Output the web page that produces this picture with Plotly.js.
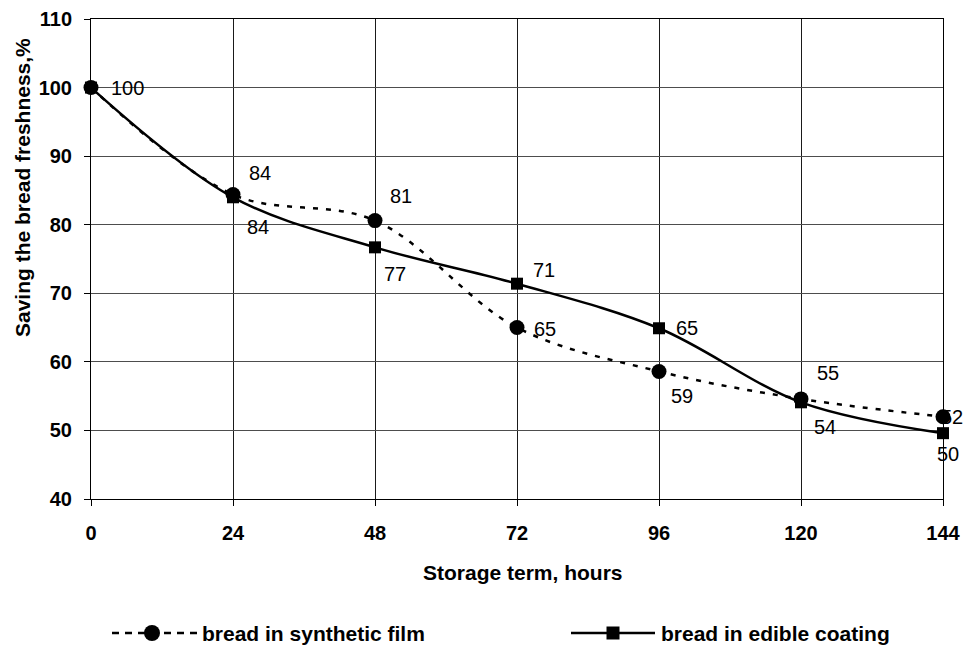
<!DOCTYPE html>
<html>
<head>
<meta charset="utf-8">
<script src="https://cdn.plot.ly/plotly-3.0.1.min.js"></script>
<style>html,body{margin:0;padding:0;background:#fff;}#chart{width:964px;height:646px;}</style>
</head>
<body>
<div id="chart"></div>
<script>
// ---- data ----
const hours = [0, 24, 48, 72, 96, 120, 144];
const synthetic = [100, 84.4, 80.6, 65.0, 58.6, 54.6, 52.0];
const edible = [100, 84.0, 76.7, 71.4, 64.9, 54.1, 49.6];
const yTicks = [40, 50, 60, 70, 80, 90, 100, 110];
const seriesNames = ["bread in synthetic film", "bread in edible coating"];
const xTitle = "Storage term, hours";
const yTitle = "Saving the bread freshness,%";

// ---- styling ----
const FONT = "Liberation Sans, Arial, Helvetica, sans-serif";
const L = 91, R = 21, T = 19, B = 147, W = 964, H = 646;
const PW = W - L - R, PH = H - T - B;
const px2x = p => (p - L) / PW;
const px2y = p => (H - B - p) / PH;
const LEG_Y = 633;

// label offsets in screen pixels [dx, dy(down)]
const synOff = [[36, 0], [27, -22], [26, -25], [28, 1], [23, 25], [27, -26], [9, 0]];
const edOff = [[36, 0], [25, 30], [20, 27], [27, -14], [28, 0], [24, 25], [5, 21]];

const traces = [
  {
    x: hours, y: edible, name: seriesNames[1], type: "scatter", mode: "lines+markers",
    line: {color: "#000", width: 2.5, shape: "spline", smoothing: 1},
    marker: {symbol: "square", size: 12, color: "#000"},
    showlegend: false, cliponaxis: false
  },
  {
    x: hours, y: synthetic, name: seriesNames[0], type: "scatter", mode: "lines+markers",
    line: {color: "#000", width: 2.5, dash: "5px,8px", shape: "spline", smoothing: 1},
    marker: {symbol: "circle", size: 15, color: "#000"},
    showlegend: false, cliponaxis: false
  }
];

const annotations = [];
synthetic.forEach((v, i) => {
  annotations.push({x: hours[i], y: v, xref: "x", yref: "y", text: String(Math.round(v)),
    showarrow: false, xshift: synOff[i][0], yshift: -synOff[i][1],
    font: {family: FONT, size: 20, color: "#000"}});
});
edible.forEach((v, i) => {
  if (i === 0) return; // same label as synthetic at start
  annotations.push({x: hours[i], y: v, xref: "x", yref: "y", text: String(Math.round(v)),
    showarrow: false, xshift: edOff[i][0], yshift: -edOff[i][1],
    font: {family: FONT, size: 20, color: "#000"}});
});
// axis titles
annotations.push({x: px2x(523), y: px2y(572), xref: "paper", yref: "paper", text: xTitle,
  showarrow: false, xanchor: "center", yanchor: "middle",
  font: {family: FONT, size: 21, color: "#000", weight: 700}});
annotations.push({x: px2x(22), y: px2y(188), xref: "paper", yref: "paper", text: yTitle,
  showarrow: false, textangle: -90, xanchor: "center", yanchor: "middle",
  font: {family: FONT, size: 21, color: "#000", weight: 700}});
// legend texts
annotations.push({x: px2x(200), y: px2y(LEG_Y), xref: "paper", yref: "paper", text: seriesNames[0],
  showarrow: false, xanchor: "left", yanchor: "middle",
  font: {family: FONT, size: 21, color: "#000", weight: 700}});
annotations.push({x: px2x(659), y: px2y(LEG_Y), xref: "paper", yref: "paper", text: seriesNames[1],
  showarrow: false, xanchor: "left", yanchor: "middle",
  font: {family: FONT, size: 21, color: "#000", weight: 700}});

const shapes = [
  {type: "line", xref: "paper", yref: "paper", x0: px2x(112), x1: px2x(197), y0: px2y(LEG_Y), y1: px2y(LEG_Y),
    line: {color: "#000", width: 2.5, dash: "7px,6px"}},
  {type: "circle", xref: "paper", yref: "paper", xsizemode: "pixel", ysizemode: "pixel",
    xanchor: px2x(152), yanchor: px2y(LEG_Y), x0: -8, x1: 8, y0: -8, y1: 8,
    fillcolor: "#000", line: {color: "#000", width: 0}},
  {type: "line", xref: "paper", yref: "paper", x0: px2x(571), x1: px2x(655), y0: px2y(LEG_Y), y1: px2y(LEG_Y),
    line: {color: "#000", width: 2.5}},
  {type: "rect", xref: "paper", yref: "paper", xsizemode: "pixel", ysizemode: "pixel",
    xanchor: px2x(613), yanchor: px2y(LEG_Y), x0: -6.5, x1: 6.5, y0: -6.5, y1: 6.5,
    fillcolor: "#000", line: {color: "#000", width: 0}}
];

const layout = {
  width: W, height: H,
  margin: {l: L, r: R, t: T, b: B, pad: 0},
  paper_bgcolor: "#fff", plot_bgcolor: "#fff",
  showlegend: false,
  font: {family: FONT, color: "#000"},
  xaxis: {
    range: [0, 144], tickvals: hours, ticktext: hours.map(String),
    showgrid: true, gridcolor: "#1a1a1a", gridwidth: 1, zeroline: false,
    showline: true, mirror: true, linecolor: "#000", linewidth: 1,
    ticks: "outside", ticklen: 6, tickcolor: "#000", tickwidth: 1,
    ticklabelstandoff: 10,
    tickfont: {family: FONT, size: 20, color: "#000", weight: 700}
  },
  yaxis: {
    range: [40, 110], tickvals: yTicks, ticktext: yTicks.map(String),
    showgrid: true, gridcolor: "#4d4d4d", gridwidth: 1, zeroline: false,
    showline: true, mirror: true, linecolor: "#000", linewidth: 1,
    ticks: "outside", ticklen: 6, tickcolor: "#000", tickwidth: 1,
    ticklabelstandoff: 8,
    tickfont: {family: FONT, size: 20, color: "#000", weight: 700}
  },
  annotations: annotations,
  shapes: shapes
};

Plotly.newPlot("chart", traces, layout, {staticPlot: true, displayModeBar: false});
</script>
</body>
</html>
